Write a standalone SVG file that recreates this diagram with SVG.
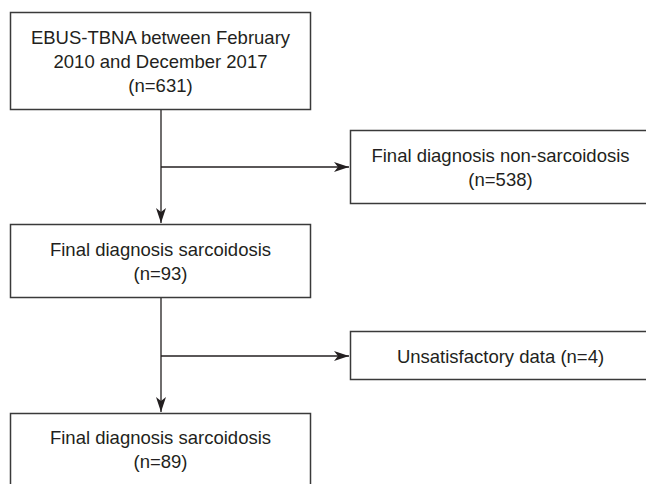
<svg xmlns="http://www.w3.org/2000/svg" width="646" height="484" viewBox="0 0 646 484">
<style>
.box{fill:#fff;stroke:#3a3a3a;stroke-width:1.5}
.t{font-family:"Liberation Sans",Arial,sans-serif;font-size:18.5px;fill:#231f20;text-anchor:middle}
.c{fill:none;stroke:#231f20;stroke-width:1.3}
</style>
<defs>
<marker id="ah" markerUnits="userSpaceOnUse" markerWidth="16" markerHeight="12" refX="15" refY="5" orient="auto" viewBox="0 0 16 12">
<path d="M0,0 L15,5 L0,10 L4,5 Z" fill="#231f20"/>
</marker>
</defs>
<rect width="646" height="484" fill="#fff"/>
<g id="connectors">
<path class="c" d="M161,110 V223" marker-end="url(#ah)"/>
<path class="c" d="M161,167 H349" marker-end="url(#ah)"/>
<path class="c" d="M161,298 V412" marker-end="url(#ah)"/>
<path class="c" d="M161,356 H349" marker-end="url(#ah)"/>
</g>
<g id="n1">
<rect class="box" x="10.5" y="12.5" width="300" height="97"/>
<text class="t" x="160.5" y="43.5">EBUS-TBNA between February</text>
<text class="t" x="160.5" y="67.5">2010 and December 2017</text>
<text class="t" x="160.5" y="91.5">(n=631)</text>
</g>
<g id="n2">
<rect class="box" x="350.5" y="130.5" width="300" height="73"/>
<text class="t" x="500.5" y="162">Final diagnosis non-sarcoidosis</text>
<text class="t" x="500.5" y="186">(n=538)</text>
</g>
<g id="n3">
<rect class="box" x="10.5" y="224.5" width="300" height="73"/>
<text class="t" x="160.5" y="255.5">Final diagnosis sarcoidosis</text>
<text class="t" x="160.5" y="279.5">(n=93)</text>
</g>
<g id="n4">
<rect class="box" x="350.5" y="331.5" width="300" height="48"/>
<text class="t" x="500.5" y="363">Unsatisfactory data (n=4)</text>
</g>
<g id="n5">
<rect class="box" x="10.5" y="413.5" width="300" height="80"/>
<text class="t" x="160.5" y="444">Final diagnosis sarcoidosis</text>
<text class="t" x="160.5" y="468">(n=89)</text>
</g>
</svg>
